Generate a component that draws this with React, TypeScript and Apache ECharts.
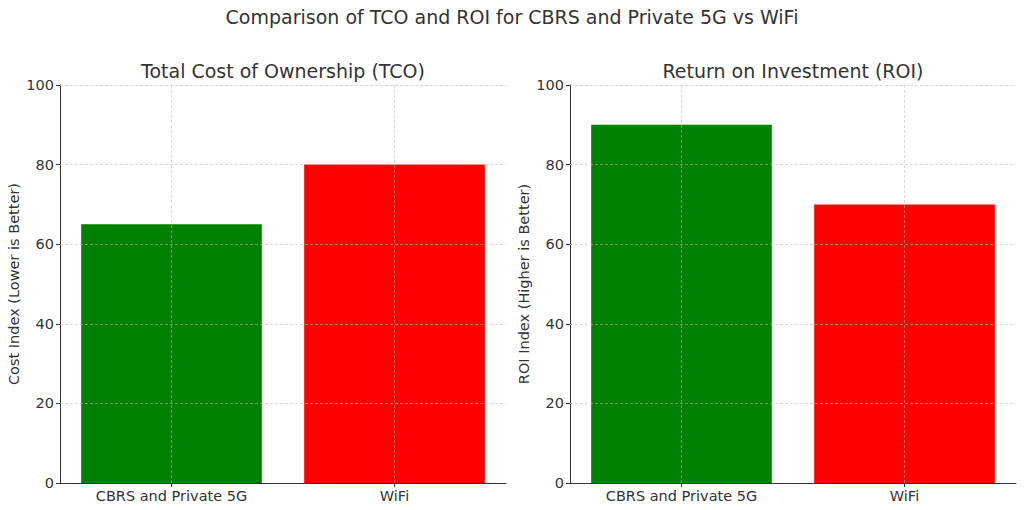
import React, { useEffect, useRef } from "react";
import * as echarts from "echarts";

const categories = ["CBRS and Private 5G", "WiFi"];
const tcoValues = [65, 80];
const roiValues = [90, 70];
const barColors = ["#008000", "#ff0000"];
const yTicks = [20, 40, 60, 80, 100];

const mainTitle = "Comparison of TCO and ROI for CBRS and Private 5G vs WiFi";
const leftTitle = "Total Cost of Ownership (TCO)";
const rightTitle = "Return on Investment (ROI)";
const leftYName = "Cost Index (Lower is Better)";
const rightYName = "ROI Index (Higher is Better)";

const FONT = "DejaVu Sans";
const TEXT = "#333333";

export default function App() {
  const ref = useRef<HTMLDivElement>(null);
  useEffect(() => {
    if (!ref.current) return;
    const chart = echarts.init(ref.current, undefined, { renderer: "svg" });
    const gridLine = {
      color: "#b8b8b8",
      type: [3, 2] as any,
      width: 0.8,
      opacity: 0.7,
    };
    const markLine = {
      silent: true,
      symbol: ["none", "none"],
      label: { show: false },
      lineStyle: gridLine,
      z: 10,
      data: [
        ...categories.map((c) => ({ xAxis: c })),
        ...yTicks.map((v) => ({ yAxis: v })),
      ],
    };
    const mkX = (gi: number) => ({
      type: "category",
      gridIndex: gi,
      data: categories,
      boundaryGap: true,
      axisLine: { lineStyle: { color: TEXT, width: 1 } },
      axisTick: { show: true, alignWithLabel: true, length: 4, lineStyle: { color: TEXT } },
      axisLabel: { color: TEXT, fontFamily: FONT, fontSize: 14.5, margin: 5 },
      splitLine: { show: false },
    });
    const mkY = (gi: number, name: string) => ({
      type: "value",
      gridIndex: gi,
      min: 0,
      max: 100,
      interval: 20,
      name,
      nameLocation: "middle",
      nameGap: 39,
      nameTextStyle: { color: TEXT, fontFamily: FONT, fontSize: 14.5 },
      axisLine: { show: true, lineStyle: { color: TEXT, width: 1 } },
      axisTick: { show: true, length: 4, lineStyle: { color: TEXT } },
      axisLabel: { color: TEXT, fontFamily: FONT, fontSize: 14.5, margin: 6 },
      splitLine: { show: false },
    });
    const mkSeries = (gi: number, vals: number[]) => ({
      type: "bar",
      xAxisIndex: gi,
      yAxisIndex: gi,
      barWidth: "81%",
      data: vals.map((v, i) => ({ value: v, itemStyle: { color: barColors[i] } })),
      markLine,
    });
    const titleStyle = { color: TEXT, fontFamily: FONT, fontSize: 19, fontWeight: "normal" };
    chart.setOption({
      animation: false,
      backgroundColor: "#ffffff",
      title: [
        { text: mainTitle, left: "center", top: 2, textStyle: titleStyle },
        { text: leftTitle, left: 278, textAlign: "center", top: 56, textStyle: titleStyle },
        { text: rightTitle, left: 788, textAlign: "center", top: 56, textStyle: titleStyle },
      ],
      grid: [
        { left: 60, right: 518, top: 85, bottom: 27 },
        { left: 570, right: 8, top: 85, bottom: 27 },
      ],
      xAxis: [mkX(0), mkX(1)],
      yAxis: [mkY(0, leftYName), mkY(1, rightYName)],
      series: [mkSeries(0, tcoValues), mkSeries(1, roiValues)],
    });
    return () => chart.dispose();
  }, []);
  return (
    <div
      ref={ref}
      style={{ position: "fixed", left: 0, top: 0, width: 1024, height: 510 }}
    />
  );
}
